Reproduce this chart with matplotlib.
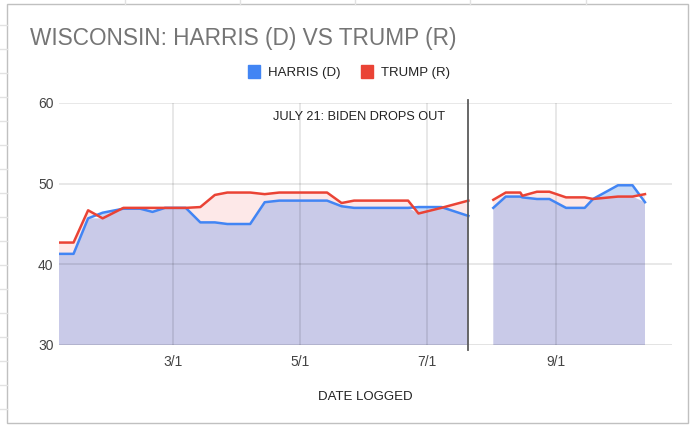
import numpy as np
import matplotlib
matplotlib.use("Agg")
from matplotlib import pyplot as plt
from matplotlib.patches import Patch, Rectangle
from matplotlib.lines import Line2D

plt.rcParams['font.family'] = ['Liberation Sans', 'DejaVu Sans']

# poll averages (None = gap after Biden drops out)
dates = ["2024-01-06", "2024-01-13", "2024-01-20", "2024-01-27", "2024-02-06",
         "2024-02-14", "2024-02-20", "2024-02-26", "2024-03-07", "2024-03-14",
         "2024-03-21", "2024-03-27", "2024-04-07", "2024-04-14", "2024-04-21",
         "2024-05-14", "2024-05-21", "2024-05-27", "2024-06-22", "2024-06-27",
         "2024-07-08", "2024-07-21", "2024-07-27", "2024-08-02", "2024-08-08",
         "2024-08-15", "2024-08-16", "2024-08-23", "2024-08-29", "2024-09-06",
         "2024-09-15", "2024-09-19", "2024-10-01", "2024-10-08", "2024-10-14"]
harris = [41.3, 41.3, 45.7, 46.4, 46.9, 46.9, 46.5, 47.0, 47.0, 45.2,
          45.2, 45.0, 45.0, 47.7, 47.9, 47.9, 47.2, 47.0, 47.0, 47.1,
          47.1, 46.0, None, 47.0, 48.4, 48.4, 48.3, 48.1, 48.1, 47.0,
          47.0, 48.1, 49.8, 49.8, 47.7]
trump = [42.7, 42.7, 46.7, 45.7, 47.0, 47.0, 47.0, 47.0, 47.0, 47.1,
         48.6, 48.9, 48.9, 48.7, 48.9, 48.9, 47.6, 47.9, 47.9, 46.3,
         47.0, 47.9, None, 48.0, 48.9, 48.9, 48.5, 49.0, 49.0, 48.3,
         48.3, 48.1, 48.4, 48.4, 48.7]
tick_dates = ["2024-03-01", "2024-05-01", "2024-07-01", "2024-09-01"]
tick_labels = ["3/1", "5/1", "7/1", "9/1"]
y_ticks = [30, 40, 50, 60]
event_date = "2024-07-21"

W, H = 690, 426
fig = plt.figure(figsize=(W / 100, H / 100), dpi=100)

# spreadsheet behind the chart
for yy in range(25, 426, 24):
    fig.add_artist(Line2D([0, 7 / W], [1 - yy / H] * 2, color="#e2e2e2", lw=1))
for xx in [125, 240, 355, 470, 586]:
    fig.add_artist(Line2D([xx / W] * 2, [1, 1 - 4 / H], color="#e2e2e2", lw=1))
fig.add_artist(Rectangle((7 / W, 1 - 423 / H), 681 / W, 419 / H, fill=False,
                         edgecolor="#c0c0c0", lw=1))

ax = fig.add_axes([59 / W, 1 - 345 / H, 613 / W, 242 / H])

x = np.array(dates, dtype="datetime64[D]").astype("O")
h = np.ma.masked_invalid(np.array(harris, dtype=float))
t = np.ma.masked_invalid(np.array(trump, dtype=float))
lo = np.ma.minimum(h, t)

ax.fill_between(x, 30, lo, color="#c9cae8", lw=0, zorder=1)
ax.fill_between(x, h, t, where=(t >= h).filled(False), interpolate=True,
                color="#fde8e8", lw=0, zorder=1)
ax.fill_between(x, h, t, where=(h >= t).filled(False), interpolate=True,
                color="#c6d9f6", lw=0, zorder=1)

ax.plot(x, h, color="#4285F4", lw=1.8, zorder=4, solid_joinstyle="round")
ax.plot(x, t, color="#EA4335", lw=1.8, zorder=5, solid_joinstyle="round")

ax.set_ylim(30, 60)
ax.set_xlim(np.datetime64("2024-01-06").astype("O"), np.datetime64("2024-10-27").astype("O"))
ax.set_yticks(y_ticks)
tx = np.array(tick_dates, dtype="datetime64[D]").astype("O")
ax.set_xticks(tx)
ax.set_xticklabels(tick_labels)
for yv in y_ticks:
    ax.axhline(yv, color=(0, 0, 0, 0.13 if yv == 30 else 0.11), lw=1.2, zorder=2)
for xv in tx:
    ax.axvline(xv, color=(0, 0, 0, 0.11), lw=1.2, zorder=2)

ev = np.datetime64(event_date).astype("O")
ax.axvline(ev, ymin=-0.02, ymax=1.012, color="#5c5c5c", lw=1.3, zorder=6, clip_on=False)

for s in ax.spines.values():
    s.set_visible(False)
ax.tick_params(length=0, labelsize=10, labelcolor="#444444")
ax.tick_params(axis="y", pad=4)
ax.tick_params(axis="x", pad=7)

fig.text(30 / W, 1 - 39 / H, "WISCONSIN: HARRIS (D) VS TRUMP (R)", fontsize=16.3,
         color="#757575", va="center", ha="left")
fig.text(445 / W, 1 - 117 / H, "JULY 21: BIDEN DROPS OUT", fontsize=9.2,
         color="#222222", va="center", ha="right")
fig.text(365 / W, 1 - 397 / H, "DATE LOGGED", fontsize=9.5, color="#222222",
         va="center", ha="center")

handles = [Patch(color="#4285F4", label="HARRIS (D)"), Patch(color="#EA4335", label="TRUMP (R)")]
fig.legend(handles=handles, loc="center", bbox_to_anchor=(349 / W, 1 - 72 / H), ncol=2,
           frameon=False, fontsize=9.5, handlelength=0.9, handleheight=1.1,
           handletextpad=0.6, columnspacing=1.6, labelcolor="#222222")

fig.savefig("out.png", dpi=100)
